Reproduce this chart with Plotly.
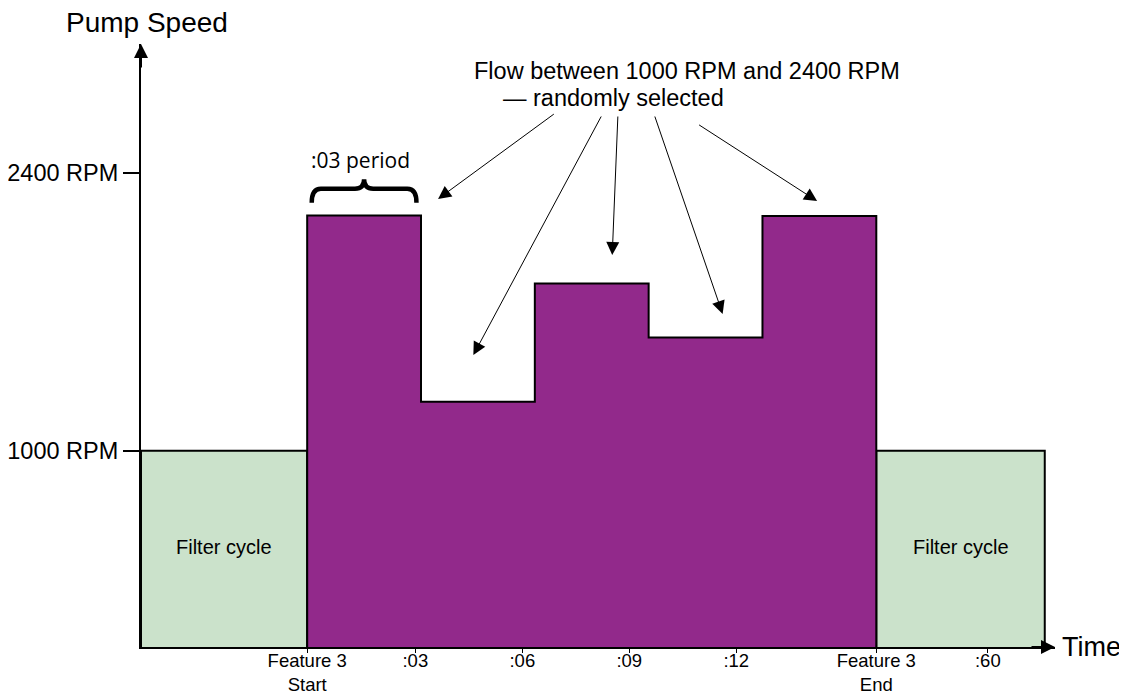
import numpy as np
import plotly.graph_objects as go

# data : pump speed per :03 period (RPM)
period_edges = [0, 1, 2, 3, 4, 5]
period_rpm = [2185, 1247, 1842, 1570, 2183]
filter_rpm = 1000
filter_left = [-1.46, 0]
filter_right = [5, 6.48]

tick_pos = [0, 0.95, 1.89, 2.83, 3.77, 5.0, 5.98]
tick_text = ["Feature 3<br>Start", ":03", ":06", ":09", ":12", "Feature 3<br>End", ":60"]

# arrows from the "randomly selected" note : (x_from, y_from, x_to, y_to)
arrow_from_x = [2.18, 2.59, 2.73, 3.05, 3.43]
arrow_from_y = [2702, 2692, 2692, 2692, 2647]
arrow_to_x = [1.15, 1.46, 2.68, 3.65, 4.48]
arrow_to_y = [2269, 1482, 1986, 1689, 2258]

PURPLE = "#92298B"
GREEN = "#CBE2CB"
FONT = "Liberation Sans"

fig = go.Figure()

# filter cycles
for x0, x1 in [filter_left, filter_right]:
    fig.add_trace(go.Scatter(x=[x0, x0, x1, x1, x0], y=[0, filter_rpm, filter_rpm, 0, 0],
                             mode="lines", fill="toself", fillcolor=GREEN,
                             line=dict(color="black", width=2), hoverinfo="skip"))

# feature 3 step profile
xs = [period_edges[0]] + period_edges[:-1] + [period_edges[-1], period_edges[-1]]
ys = [0] + period_rpm + [period_rpm[-1], 0]
fig.add_trace(go.Scatter(x=xs, y=ys, mode="lines", line_shape="hv", fill="toself",
                         fillcolor=PURPLE, line=dict(color="black", width=2), hoverinfo="skip"))

ann = []
for xf, yf, xt, yt in zip(arrow_from_x, arrow_from_y, arrow_to_x, arrow_to_y):
    ann.append(dict(x=xt, y=yt, ax=xf, ay=yf, xref="x", yref="y", axref="x", ayref="y",
                    showarrow=True, arrowhead=2, arrowsize=2.6, arrowwidth=1, arrowcolor="black",
                    text=""))

# axis arrow heads
ann.append(dict(x=-1.46, y=3050, ax=0, ay=25, xref="x", yref="y", showarrow=True, arrowhead=2,
                arrowsize=1.4, arrowwidth=2, arrowcolor="black", text=""))
ann.append(dict(x=6.57, y=10, ax=-25, ay=0, xref="x", yref="y", showarrow=True, arrowhead=2,
                arrowsize=1.4, arrowwidth=2, arrowcolor="black", text=""))

ann += [
    dict(x=0.0066, y=1.035, xref="paper", yref="paper", text="Pump Speed", showarrow=False,
         xanchor="center", yanchor="middle", font=dict(size=28, family=FONT, color="black")),
    dict(x=1.006, y=0, xref="paper", yref="paper", text="Time", showarrow=False,
         xanchor="left", yanchor="middle", font=dict(size=27, family=FONT, color="black")),
    dict(x=np.mean(filter_left), y=515, text="Filter cycle", showarrow=False,
         font=dict(size=20, family=FONT, color="black")),
    dict(x=np.mean(filter_right), y=515, text="Filter cycle", showarrow=False,
         font=dict(size=20, family=FONT, color="black")),
    dict(x=3.34, y=2916, text="Flow between 1000 RPM and 2400 RPM", showarrow=False,
         font=dict(size=23.5, family=FONT, color="black")),
    dict(x=2.69, y=2776, text="— randomly selected", showarrow=False,
         font=dict(size=23.5, family=FONT, color="black")),
    dict(x=0.47, y=2465, text=":03 period", showarrow=False,
         font=dict(size=21, family="Open Sans", color="black")),
]

# brace over the first period
brace = ("M 0.04,2250 Q 0.04,2320 0.12,2320 L 0.42,2320 Q 0.5,2320 0.5,2368 "
         "Q 0.5,2320 0.58,2320 L 0.88,2320 Q 0.96,2320 0.96,2250")
fig.add_shape(type="path", path=brace, xref="x", yref="y", line=dict(color="black", width=4.5))

# the page puts the figure 8px in from the top-left corner, margins allow for it
fig.update_layout(
    width=1127, height=694,
    margin=dict(l=133, r=80, t=36, b=55),
    plot_bgcolor="white", paper_bgcolor="white",
    showlegend=False,
    annotations=ann,
    xaxis=dict(range=[-1.46, 6.57], automargin=False, showgrid=False, zeroline=False,
               showline=True, linecolor="black", linewidth=2, tickmode="array",
               tickvals=tick_pos, ticktext=tick_text, ticks="outside", ticklen=4, tickwidth=1,
               tickcolor="black", ticklabelstandoff=-8,
               tickfont=dict(size=18.5, family=FONT, color="black")),
    yaxis=dict(range=[10, 3050], automargin=False, showgrid=False, zeroline=False,
               showline=True, linecolor="black", linewidth=2, tickmode="array",
               tickvals=[1000, 2400], ticktext=["1000 RPM", "2400 RPM"], ticks="outside",
               ticklen=16, tickwidth=1.5, tickcolor="black",
               tickfont=dict(size=23.5, family=FONT, color="black")),
)

fig.write_html("out.html")
